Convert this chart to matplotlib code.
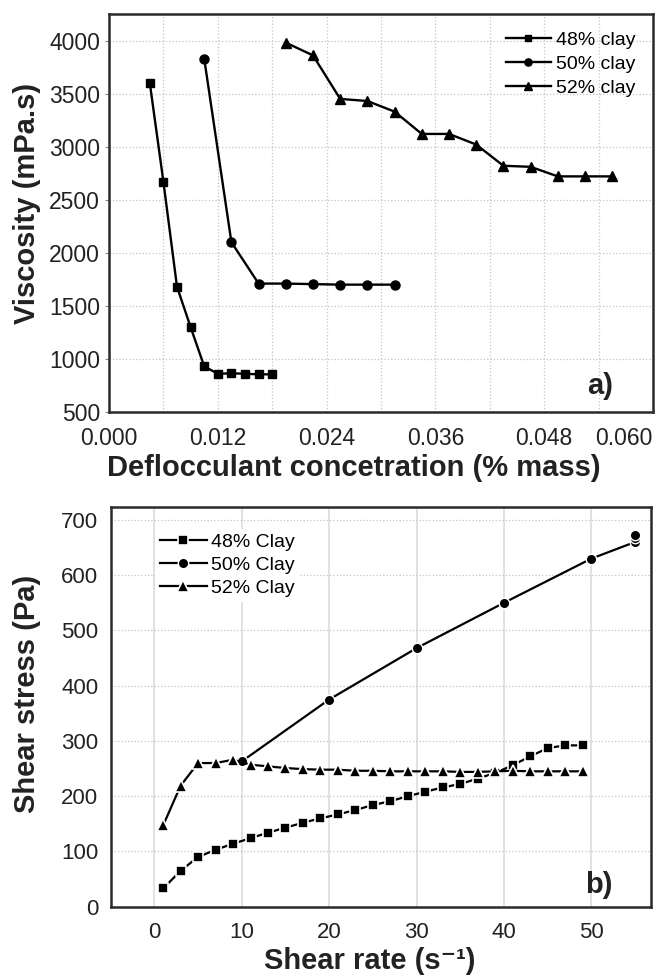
import matplotlib
matplotlib.use("Agg")
import matplotlib.pyplot as plt
import numpy as np
from matplotlib.ticker import FormatStrFormatter, MultipleLocator

# data, panel a) viscosity vs deflocculant
defl_48 = [0.0045, 0.006, 0.0075, 0.009, 0.0105, 0.012, 0.0135, 0.015, 0.0165, 0.018]
visc_48 = [3600, 2670, 1680, 1300, 930, 860, 865, 860, 855, 855]
defl_50 = [0.0105, 0.0135, 0.0165, 0.0195, 0.0225, 0.0255, 0.0285, 0.0315]
visc_50 = [3830, 2100, 1710, 1710, 1705, 1700, 1700, 1700]
defl_52 = [0.0195, 0.0225, 0.0255, 0.0285, 0.0315, 0.0345, 0.0375, 0.0405,
           0.0435, 0.0465, 0.0495, 0.0525, 0.0555]
visc_52 = [3980, 3860, 3450, 3430, 3330, 3120, 3120, 3020, 2820, 2810, 2720, 2720, 2720]
labels_a = ["48% clay", "50% clay", "52% clay"]

# data, panel b) shear stress vs shear rate
rate_odd = [1, 3, 5, 7, 9, 11, 13, 15, 17, 19, 21, 23, 25, 27, 29, 31, 33, 35, 37, 39,
            41, 43, 45, 47, 49]
stress_48 = [33, 65, 90, 103, 114, 124, 134, 143, 152, 160, 167, 175, 184, 191, 200,
             208, 216, 222, 232, 242, 256, 272, 287, 292, 292]
stress_52 = [147, 219, 260, 260, 266, 257, 254, 251, 249, 248, 248, 246, 246, 245, 245,
             245, 245, 244, 244, 245, 246, 245, 245, 245, 245]
rate_50 = [10, 20, 30, 40, 50, 55, 55, 55]
stress_50 = [263, 375, 468, 550, 630, 660, 667, 673]
labels_b = ["48% Clay", "50% Clay", "52% Clay"]

plt.rcParams['font.family'] = ['Liberation Sans', 'DejaVu Sans']

W, H = 664, 977
fig = plt.figure(figsize=(W / 100, H / 100), dpi=100)

spine_col = '#2b2b2b'
grid_col = '#c4c4c4'
text_col = '#222222'

# ---------------- panel a ----------------
ax1 = fig.add_axes([109 / W, 1 - 412 / H, 544 / W, 398 / H])
ax1.plot(defl_48, visc_48, '-s', color='black', lw=1.7, ms=6, label=labels_a[0])
ax1.plot(defl_50, visc_50, '-o', color='black', lw=1.7, ms=6.5, label=labels_a[1])
ax1.plot(defl_52, visc_52, '-^', color='black', lw=1.7, ms=7.5, label=labels_a[2])

ax1.set_xlim(0, 0.060)
ax1.set_ylim(500, 4250)
ax1.set_xticks(np.arange(0, 0.0601, 0.012))
ax1.xaxis.set_minor_locator(MultipleLocator(0.006))
ax1.xaxis.set_major_formatter(FormatStrFormatter('%.3f'))
ax1.yaxis.set_major_locator(MultipleLocator(500))
ax1.set_axisbelow(True)
ax1.grid(True, which='both', axis='x', linestyle=':', color=grid_col, lw=0.9)
ax1.grid(True, which='major', axis='y', linestyle=':', color=grid_col, lw=0.9)
ax1.tick_params(axis='x', which='both', length=0, pad=10.5, labelsize=16.5, colors=text_col)
ax1.tick_params(axis='y', length=3, width=0.8, color='#888888', pad=3.5, labelsize=16.5,
                labelcolor=text_col)
# last label pulled inside so it is not cut at the figure edge
ax1.get_xticklabels()[-1].set_horizontalalignment('right')
for s in ax1.spines.values():
    s.set_linewidth(1.8)
    s.set_color(spine_col)

ax1.set_xlabel("Deflocculant concetration (% mass)", fontsize=21, fontweight='bold',
               color=text_col)
ax1.xaxis.set_label_coords(0.45, -0.105)
ax1.set_ylabel("Viscosity (mPa.s)", fontsize=21, fontweight='bold', color=text_col)
ax1.yaxis.set_label_coords(-0.125, 0.523)

ax1.legend(loc='upper left', bbox_to_anchor=(0.73, 0.957), frameon=False, fontsize=14,
           handlelength=2.3, handletextpad=0.25, labelspacing=0.33, borderpad=0,
           borderaxespad=0, markerscale=0.8)
ax1.text(0.9265, 0.045, 'a)', transform=ax1.transAxes, ha='right', va='baseline',
         fontsize=21, fontweight='bold', color=text_col)

# ---------------- panel b ----------------
ax2 = fig.add_axes([110.7 / W, 1 - 906.7 / H, 540 / W, 400 / H])
ax2.plot(rate_odd, stress_48, '-s', color='black', lw=1.6, ms=7.5, mec='white', mew=1.2,
         label=labels_b[0])
ax2.plot(rate_50, stress_50, '-o', color='black', lw=1.6, ms=7.5, mec='white', mew=1.0,
         label=labels_b[1])
ax2.plot(rate_odd, stress_52, '-^', color='black', lw=1.6, ms=9, mec='white', mew=1.2,
         label=labels_b[2])

ax2.set_xlim(-5, 56.8)
ax2.set_ylim(0, 724)
ax2.xaxis.set_major_locator(MultipleLocator(10))
ax2.yaxis.set_major_locator(MultipleLocator(100))
ax2.set_axisbelow(True)
ax2.grid(True, axis='x', linestyle='-', color='#dcdcdc', lw=1.2)
ax2.grid(True, axis='y', linestyle=':', color=grid_col, lw=0.9)
ax2.tick_params(axis='x', length=0, pad=11, labelsize=16, labelcolor=text_col)
ax2.tick_params(axis='y', length=0, pad=9, labelsize=16, labelcolor=text_col)
for s in ax2.spines.values():
    s.set_linewidth(1.8)
    s.set_color(spine_col)

ax2.set_xlabel("Shear rate (s\u207b\u00b9)", fontsize=21, fontweight='bold', color=text_col)
ax2.xaxis.set_label_coords(0.48, -0.1)
ax2.set_ylabel("Shear stress (Pa)", fontsize=21, fontweight='bold', color=text_col)
ax2.yaxis.set_label_coords(-0.13, 0.532)

leg = ax2.legend(loc='upper left', bbox_to_anchor=(0.0825, 0.945), fontsize=14,
                 handlelength=2.4, handletextpad=0.2, labelspacing=0.28, borderpad=0.25,
                 borderaxespad=0, fancybox=False, framealpha=1)
leg.get_frame().set_edgecolor('none')
leg.get_frame().set_facecolor('white')
ax2.text(0.930, 0.034, 'b)', transform=ax2.transAxes, ha='right', va='baseline',
         fontsize=21, fontweight='bold', color=text_col)

fig.savefig('out.png', dpi=100)
